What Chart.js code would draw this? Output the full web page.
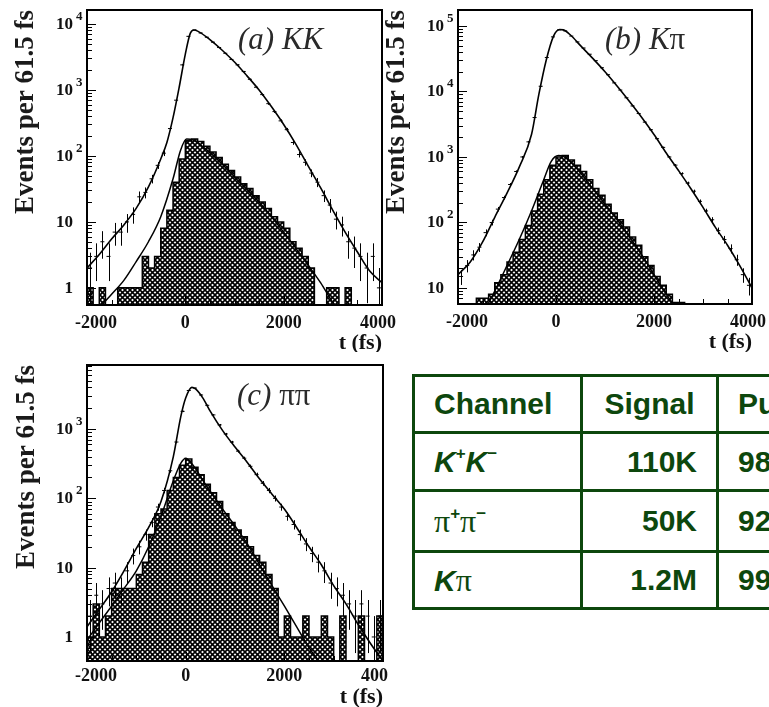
<!DOCTYPE html>
<html>
<head>
<meta charset="utf-8">
<script src="https://cdn.jsdelivr.net/npm/chart.js@4.4.0/dist/chart.umd.min.js"></script>
<style>
  html, body { margin: 0; padding: 0; background: #fff; width: 769px; height: 707px; overflow: hidden; position: relative; }
  canvas { position: absolute; }
  #panelA { left: 0; top: 0; }
  #panelB { left: 384px; top: 0; }
  #panelC { left: 0; top: 352px; }
  #yields { position: absolute; left: 412px; top: 374px; width: 504px; border-collapse: collapse; table-layout: fixed;
            font: bold 30px "Liberation Sans", Arial, sans-serif; color: #0d470d; }
  #yields td { border: 3px solid #0d470d; padding: 0 19px; white-space: nowrap; overflow: hidden; }
  #yields td.r { text-align: right; }
  #yields td.c { text-align: center; }
  #yields sup { font-size: 17px; line-height: 0; vertical-align: 13px; }
  #yields .pi { font-family: "Liberation Serif", serif; font-weight: normal; font-size: 32px; }
</style>
</head>
<body>
<canvas id="panelA" width="400" height="352"></canvas>
<canvas id="panelB" width="385" height="352"></canvas>
<canvas id="panelC" width="388" height="355"></canvas>
<table id="yields">
  <colgroup><col style="width:168px"><col style="width:136px"><col style="width:200px"></colgroup>
  <tbody id="yieldRows"></tbody>
</table>
<script>
// bins of 125 fs, left edges
const binWidth = 125;
const binStarts = [-2000, -1875, -1750, -1625, -1500, -1375, -1250, -1125, -1000, -875, -750, -625, -500, -375, -250, -125,
  0, 125, 250, 375, 500, 625, 750, 875, 1000, 1125, 1250, 1375, 1500, 1625, 1750, 1875,
  2000, 2125, 2250, 2375, 2500, 2625, 2750, 2875, 3000, 3125, 3250, 3375, 3500, 3625, 3750, 3875];

// (a) KK
const histA = [1, 0, 1, 0, 0, 1, 1, 1, 1, 3, 2, 3, 8, 15, 40, 90, 170, 180, 165, 140, 115, 95, 75, 60, 48, 38, 32, 25, 20, 16, 12, 10, 8, 5, 4, 3, 2, 0, 0, 1, 1, 0, 1, 0, 0, 0, 0, 0];
const dataA = [2, 3, 5, 3, 7, 7, 10, 13, 24, 28, 45, 72, 110, 260, 700, 2400, 6500, 8100, 7300, 6300, 5300, 4400, 3600, 2900, 2400, 1900, 1450, 1100, 850, 620, 470, 340, 250, 160, 105, 80, 55, 40, 25, 18, 11, 9, 5, 4, 3, 2, 3, 1];
const fitTimeA = [-2000, -1750, -1500, -1250, -1000, -750, -500, -375, -250, -125, 0, 100, 175, 250, 500, 750, 1000, 1250, 1500, 1750, 2000, 2250, 2500, 2750, 3000, 3250, 3500, 3750, 4000];
const fitA = [2, 3.2, 5.5, 9, 16, 34, 90, 160, 380, 1100, 3500, 7200, 8100, 7800, 5800, 4000, 2650, 1650, 1000, 560, 300, 150, 70, 33, 15, 7, 3.5, 1.8, 1.2];
const bgTimeA = [-1750, -1500, -1250, -1000, -750, -500, -250, -100, 25, 150, 400, 750, 1000, 1500, 2000, 2500, 2750, 3000, 3250];
const bgA = [0.5, 0.8, 1.3, 2.5, 5, 12, 45, 120, 180, 175, 130, 75, 48, 20, 7, 2.2, 1.2, 0.6, 0.35];

// (b) Kpi
const histB = [0, 0, 0, 7, 7, 8, 12, 16, 25, 35, 55, 90, 150, 270, 450, 750, 1000, 1050, 900, 750, 600, 450, 330, 260, 190, 140, 110, 85, 60, 45, 30, 22, 15, 11, 8, 6, 6, 0, 0, 0, 0, 0, 0, 0, 0, 0, 0, 0];
const dataB = [15, 22, 32, 42, 70, 100, 160, 240, 380, 600, 1000, 1700, 4000, 12000, 33000, 68000, 87000, 84000, 70000, 57000, 46000, 37000, 29500, 23000, 18000, 13500, 10500, 8000, 6000, 4600, 3400, 2600, 1900, 1400, 1000, 750, 560, 400, 300, 210, 150, 110, 75, 55, 40, 27, 16, 11];
const fitTimeB = [-2000, -1750, -1500, -1250, -1000, -750, -500, -350, -200, -50, 75, 150, 300, 500, 750, 1000, 1250, 1500, 1750, 2000, 2250, 2500, 2750, 3000, 3250, 3500, 3750, 4000];
const fitB = [16, 25, 50, 120, 280, 700, 2200, 9000, 30000, 70000, 88000, 87000, 72000, 50000, 32000, 20000, 12000, 7000, 4000, 2200, 1150, 620, 330, 170, 85, 45, 22, 10];
const bgTimeB = [-1625, -1500, -1250, -1000, -750, -500, -250, -100, 50, 150, 400, 750, 1000, 1250, 1500, 1750, 2000, 2250, 2500, 2750];
const bgB = [3, 4, 9, 22, 55, 150, 450, 850, 1050, 1020, 700, 330, 190, 110, 60, 32, 16, 8, 4.5, 2.5];

// (c) pipi
const histC = [1, 3, 1, 2, 5, 5, 5, 5, 8, 12, 30, 60, 70, 130, 200, 300, 370, 280, 220, 160, 120, 90, 60, 45, 35, 28, 20, 15, 12, 8, 5, 1, 2, 1, 1, 2, 1, 1, 2, 1, 0, 2, 0, 0, 2, 0, 0, 2];
const dataC = [2, 4, 3, 5, 6, 5, 9, 15, 20, 30, 45, 75, 130, 250, 650, 1800, 3600, 3900, 3100, 2200, 1600, 1150, 850, 650, 480, 380, 290, 220, 165, 130, 100, 75, 55, 42, 30, 22, 16, 12, 9, 6, 5, 4, 3, 2, 3, 2, 1, 2];
const fitTimeC = [-2000, -1750, -1500, -1250, -1000, -750, -500, -250, -100, 0, 125, 200, 350, 500, 750, 1000, 1250, 1500, 1750, 2000, 2250, 2500, 2750, 3000, 3250, 3500, 3750, 4000];
const fitC = [1.4, 2.5, 4.5, 9, 19, 38, 90, 400, 1500, 2800, 4000, 3800, 2800, 1800, 950, 550, 330, 190, 115, 70, 38, 20, 11, 5.5, 3, 1.5, 0.8, 0.45];
const bgTimeC = [-2000, -1750, -1500, -1250, -1000, -750, -500, -250, -100, 0, 150, 400, 750, 1000, 1250, 1500, 1750, 2000, 2250, 2500, 2750];
const bgC = [0.9, 1.6, 2.8, 5, 9, 20, 55, 180, 320, 380, 300, 160, 70, 40, 22, 11, 5.5, 2.8, 1.4, 0.7, 0.4];

const xTicks = [-2000, 0, 2000, 4000];

// table
const channels = ['<i>K</i><sup>+</sup><i>K</i><sup>&minus;</sup>', '<span class="pi">&pi;</span><sup>+</sup><span class="pi">&pi;</span><sup>&minus;</sup>', '<i>K</i><span class="pi">&pi;</span>'];
const signals = ['110K', '50K', '1.2M'];
const purities = ['98%', '92%', '99%'];

const serif = '"Liberation Serif", "Times New Roman", serif';

// cross hatch fill
const tile = document.createElement('canvas');
tile.width = 5; tile.height = 5;
const tg = tile.getContext('2d');
tg.fillStyle = '#fff'; tg.fillRect(0, 0, 5, 5);
tg.strokeStyle = '#000'; tg.lineWidth = 1.6;
tg.beginPath(); tg.moveTo(0, 0); tg.lineTo(5, 5); tg.moveTo(5, 0); tg.lineTo(0, 5); tg.stroke();
const hatch = tg.createPattern(tile, 'repeat');

function histPoints(vals) {
  const pts = vals.map((v, i) => ({ x: binStarts[i], y: v > 0 ? v : 1e-3 }));
  pts.push({ x: binStarts[binStarts.length - 1] + binWidth, y: pts[pts.length - 1].y });
  return pts;
}
function curve(ts, vs) { return ts.map((t, i) => ({ x: t, y: vs[i] })); }
function points(vals) { return vals.map((v, i) => ({ x: binStarts[i] + binWidth / 2, y: v })); }

// sqrt(N) error bars on the data points
const errorBars = {
  id: 'errorBars',
  afterDatasetsDraw(chart) {
    const { ctx, chartArea: a, scales: { y } } = chart;
    ctx.save();
    ctx.beginPath(); ctx.rect(a.left, a.top, a.right - a.left, a.bottom - a.top); ctx.clip();
    ctx.strokeStyle = '#000'; ctx.lineWidth = 1;
    chart.data.datasets.forEach((ds, i) => {
      if (!ds.errorBars) return;
      chart.getDatasetMeta(i).data.forEach((pt, j) => {
        const n = ds.data[j].y, e = Math.sqrt(n);
        const top = y.getPixelForValue(n + e);
        const bot = n - e > 0 ? y.getPixelForValue(n - e) : a.bottom;
        const px = Math.round(pt.x) + 0.5;
        ctx.beginPath(); ctx.moveTo(px, top); ctx.lineTo(px, bot); ctx.stroke();
      });
    });
    ctx.restore();
  }
};

// ROOT-like frame, inside ticks and labels
const rootFrame = {
  id: 'rootFrame',
  afterDraw(chart, args, o) {
    const { ctx, chartArea: a, scales: { x, y } } = chart;
    ctx.save();
    ctx.strokeStyle = '#000'; ctx.fillStyle = '#111'; ctx.lineWidth = 1;
    const lo = Math.floor(Math.log10(y.min)), hi = Math.ceil(Math.log10(y.max));
    for (let d = lo; d <= hi; d++) {
      for (let k = 1; k < 10; k++) {
        const v = k * Math.pow(10, d);
        if (v < y.min || v > y.max) continue;
        const py = Math.round(y.getPixelForValue(v)) + 0.5;
        ctx.beginPath(); ctx.moveTo(a.left, py); ctx.lineTo(a.left + (k === 1 ? 9 : 5), py); ctx.stroke();
        if (k !== 1) continue;
        ctx.textBaseline = 'middle'; ctx.textAlign = 'right';
        ctx.font = 'bold 17px ' + serif;
        ctx.fillText(d === 0 ? '1' : '10', a.left - 14, py);
        if (d >= 2) {
          ctx.textAlign = 'left'; ctx.font = 'bold 13px ' + serif;
          ctx.fillText(String(d), a.left - 11, py - 8);
        }
      }
    }
    for (let t = x.min; t <= x.max; t += 500) {
      const px = Math.round(x.getPixelForValue(t)) + 0.5;
      ctx.beginPath(); ctx.moveTo(px, a.bottom); ctx.lineTo(px, a.bottom - (t % 2000 === 0 ? 9 : 5)); ctx.stroke();
    }
    ctx.lineWidth = 2;
    ctx.strokeRect(a.left, a.top, a.right - a.left, a.bottom - a.top);

    ctx.textBaseline = 'alphabetic'; ctx.textAlign = 'center';
    ctx.font = 'bold 18px ' + serif;
    xTicks.forEach((t, i) => {
      const shift = i === 0 ? 9 : (i === xTicks.length - 1 ? -4 : 0);
      ctx.fillText(String(t), x.getPixelForValue(t) + shift, a.bottom + o.tickGap);
    });
    ctx.textAlign = 'right'; ctx.font = 'bold 22px ' + serif;
    ctx.fillText('t (fs)', a.right, a.bottom + o.titleGap);

    ctx.save();
    ctx.translate(o.yTitleX, a.top); ctx.rotate(-Math.PI / 2);
    ctx.textAlign = 'right'; ctx.textBaseline = 'middle';
    ctx.font = 'bold 27px ' + serif; ctx.fillStyle = '#1a1a1a';
    ctx.fillText('Events per 61.5 fs', 0, 0);
    ctx.restore();

    ctx.textAlign = 'left'; ctx.fillStyle = '#2a2a2a';
    let lx = o.label.x;
    o.label.parts.forEach(([txt, style]) => {
      ctx.font = style + ' 31px ' + serif;
      ctx.fillText(txt, lx, o.label.y);
      lx += ctx.measureText(txt).width;
    });
    ctx.restore();
  }
};

function makePanel(id, hist, data, fitT, fit, bgT, bg, yMin, yMax, pad, frame) {
  return new Chart(document.getElementById(id), {
    type: 'line',
    data: {
      datasets: [
        { data: histPoints(hist), stepped: true, fill: 'start', backgroundColor: hatch, borderColor: '#000', borderWidth: 1.5, pointRadius: 0, order: 3 },
        { data: curve(bgT, bg), borderColor: '#000', borderWidth: 1.5, pointRadius: 0, cubicInterpolationMode: 'monotone', fill: false, order: 2 },
        { data: curve(fitT, fit), borderColor: '#000', borderWidth: 1.6, pointRadius: 0, cubicInterpolationMode: 'monotone', fill: false, order: 1 },
        { data: points(data), showLine: false, pointStyle: 'line', pointRadius: 2, pointBorderWidth: 1, borderColor: '#000', errorBars: true, order: 0 }
      ]
    },
    options: {
      responsive: false, animation: false, devicePixelRatio: 1, events: [],
      layout: { padding: pad },
      plugins: { legend: { display: false }, tooltip: { enabled: false }, rootFrame: frame },
      scales: {
        x: { type: 'linear', display: false, min: -2000, max: 4000 },
        y: { type: 'logarithmic', display: false, min: yMin, max: yMax }
      }
    },
    plugins: [errorBars, rootFrame]
  });
}

makePanel('panelA', histA, dataA, fitTimeA, fitA, bgTimeA, bgA, 0.55, 16300,
  { left: 87, top: 10, right: 18, bottom: 47 },
  { tickGap: 23, titleGap: 44, yTitleX: 26, label: { x: 238, y: 49, parts: [['(a) KK', 'italic']] } });
makePanel('panelB', histB, dataB, fitTimeB, fitB, bgTimeB, bgB, 5.7, 175000,
  { left: 74, top: 10, right: 17, bottom: 48 },
  { tickGap: 23, titleGap: 44, yTitleX: 13, label: { x: 221, y: 49, parts: [['(b) K', 'italic'], ['\u03c0', 'normal']] } });
makePanel('panelC', histC, dataC, fitTimeC, fitC, bgTimeC, bgC, 0.45, 8400,
  { left: 87, top: 13, right: 5, bottom: 46 },
  { tickGap: 20, titleGap: 42, yTitleX: 27, label: { x: 237, y: 53, parts: [['(c) ', 'italic'], ['\u03c0\u03c0', 'normal']] } });

// yield table
const rowHeights = [57, 58, 61, 57];
let rows = '<tr style="height:' + rowHeights[0] + 'px"><td>Channel</td><td class="c">Signal</td><td>Purity</td></tr>';
channels.forEach((c, i) => {
  rows += '<tr style="height:' + rowHeights[i + 1] + 'px"><td>' + c + '</td><td class="r">' + signals[i] + '</td><td>' + purities[i] + '</td></tr>';
});
document.getElementById('yieldRows').innerHTML = rows;
</script>
</body>
</html>
